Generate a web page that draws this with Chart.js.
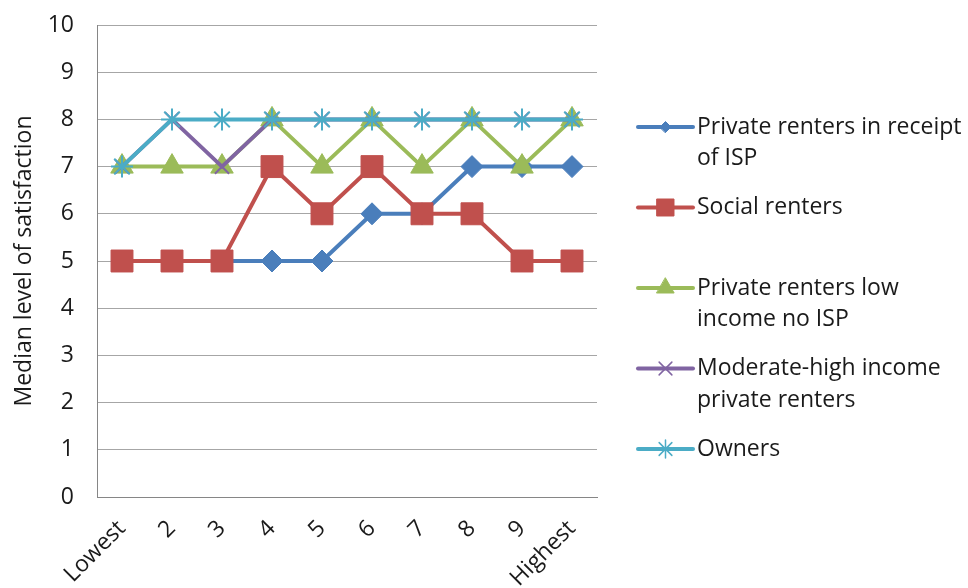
<!DOCTYPE html>
<html>
<head>
<meta charset="utf-8">
<script src="https://cdn.jsdelivr.net/npm/chart.js@4.4.0/dist/chart.umd.min.js"></script>
<style>
  html, body { margin: 0; padding: 0; background: #fff; }
  #wrap { width: 968px; height: 588px; }
</style>
</head>
<body>
<div id="wrap"><canvas id="chart" width="968" height="588"></canvas></div>
<script>
// income bands along the bottom
const incomeBands = ['Lowest', '2', '3', '4', '5', '6', '7', '8', '9', 'Highest'];

const seriesNames = [
  'Private renters in receipt of ISP',
  'Social renters',
  'Private renters low income no ISP',
  'Moderate-high income private renters',
  'Owners'
];

// median satisfaction per band
const privateIsp      = [5, 5, 5, 5, 5, 6, 6, 7, 7, 7];
const socialRenters   = [5, 5, 5, 7, 6, 7, 6, 6, 5, 5];
const privateLowNoIsp = [7, 7, 7, 8, 7, 8, 7, 8, 7, 8];
const moderateHigh    = [7, 8, 7, 8, 8, 8, 8, 8, 8, 8];
const owners          = [7, 8, 8, 8, 8, 8, 8, 8, 8, 8];

const yMin = 0, yMax = 10, yStep = 1;

const textColor = '#1a1a1a';
const fontFamily = "'Open Sans', 'Noto Sans', sans-serif";
const fontSize = 23;
Chart.defaults.font.family = fontFamily;
Chart.defaults.font.size = fontSize;
Chart.defaults.color = textColor;

function line(label, data, color, style, radius, legendRadius, order, fill) {
  return {
    label: label,
    data: data,
    borderColor: color,
    borderWidth: 4,
    pointStyle: style,
    pointRadius: radius,
    pointHoverRadius: radius,
    pointBackgroundColor: fill ? color : 'transparent',
    pointBorderColor: color,
    pointBorderWidth: fill ? 1 : 2,
    legendRadius: legendRadius,
    order: order,
    tension: 0
  };
}

const datasets = [
  line(seriesNames[0], privateIsp,      '#4a7ebb', 'rectRot',  11,   5.5, 5, true),
  line(seriesNames[1], socialRenters,   '#c0504d', 'rect',     15.5, 12,  4, true),
  line(seriesNames[2], privateLowNoIsp, '#9bbb59', 'triangle', 13,   10,  3, true),
  line(seriesNames[3], moderateHigh,    '#8064a2', 'crossRot', 10,   9,   2, false),
  line(seriesNames[4], owners,          '#4bacc6', 'star',     11,   9,   1, false)
];

// legend down the right side, wrapped like the office legend
const sideLegend = {
  id: 'sideLegend',
  afterDraw(chart) {
    const ctx = chart.ctx;
    const lineX0 = chart.chartArea.right + 41;
    const lineX1 = lineX0 + 55;
    const textX = lineX1 + 4;
    const maxW = chart.width - textX;
    const top = 127, step = 80.5, lh = 31.5;
    ctx.save();
    ctx.font = fontSize + 'px ' + fontFamily;
    ctx.textBaseline = 'middle';
    ctx.textAlign = 'left';
    chart.data.datasets.forEach((ds, i) => {
      const y = top + i * step;
      ctx.strokeStyle = ds.borderColor;
      ctx.lineWidth = 4;
      ctx.lineCap = 'round';
      ctx.beginPath();
      ctx.moveTo(lineX0, y);
      ctx.lineTo(lineX1, y);
      ctx.stroke();
      ctx.fillStyle = ds.pointBackgroundColor;
      ctx.strokeStyle = ds.pointBorderColor;
      ctx.lineWidth = ds.pointBorderWidth === 1 ? 1 : 1.5;
      Chart.helpers.drawPoint(ctx, {
        pointStyle: ds.pointStyle,
        radius: ds.legendRadius,
        rotation: 0,
        borderWidth: ctx.lineWidth
      }, (lineX0 + lineX1) / 2, y);
      // wrap label words
      const words = ds.label.split(' ');
      const rows = [];
      let cur = '';
      words.forEach(w => {
        const test = cur ? cur + ' ' + w : w;
        if (ctx.measureText(test).width > maxW && cur) {
          rows.push(cur);
          cur = w;
        } else {
          cur = test;
        }
      });
      rows.push(cur);
      ctx.fillStyle = textColor;
      rows.forEach((r, j) => ctx.fillText(r, textX, y + j * lh));
    });
    ctx.restore();
  }
};

new Chart(document.getElementById('chart'), {
  type: 'line',
  data: { labels: incomeBands, datasets: datasets },
  options: {
    responsive: false,
    animation: false,
    layout: { padding: { top: 25, right: 371, left: 0, bottom: 0 } },
    plugins: {
      legend: { display: false },
      tooltip: { enabled: false }
    },
    scales: {
      x: {
        offset: true,
        afterFit: (scale) => { scale.height = 91; },
        grid: { display: false, drawTicks: false },
        border: { color: '#868686', width: 1 },
        ticks: {
          autoSkip: false,
          maxRotation: 45,
          minRotation: 45,
          padding: 18,
          color: textColor,
          font: { size: fontSize }
        }
      },
      y: {
        min: yMin,
        max: yMax,
        afterFit: (scale) => {
          scale.width = 97;
          // tick padding shouldn't push the plot down
          scale.paddingTop = 12;
          scale.paddingBottom = 12;
        },
        grid: { color: '#a6a6a6', lineWidth: 1, drawTicks: false },
        border: { color: '#868686', width: 1 },
        ticks: {
          stepSize: yStep,
          padding: 23,
          color: textColor,
          font: { size: fontSize }
        },
        title: {
          display: true,
          text: 'Median level of satisfaction',
          color: textColor,
          font: { size: fontSize },
          padding: { top: 11, bottom: 0 }
        }
      }
    }
  },
  plugins: [sideLegend]
});
</script>
</body>
</html>
